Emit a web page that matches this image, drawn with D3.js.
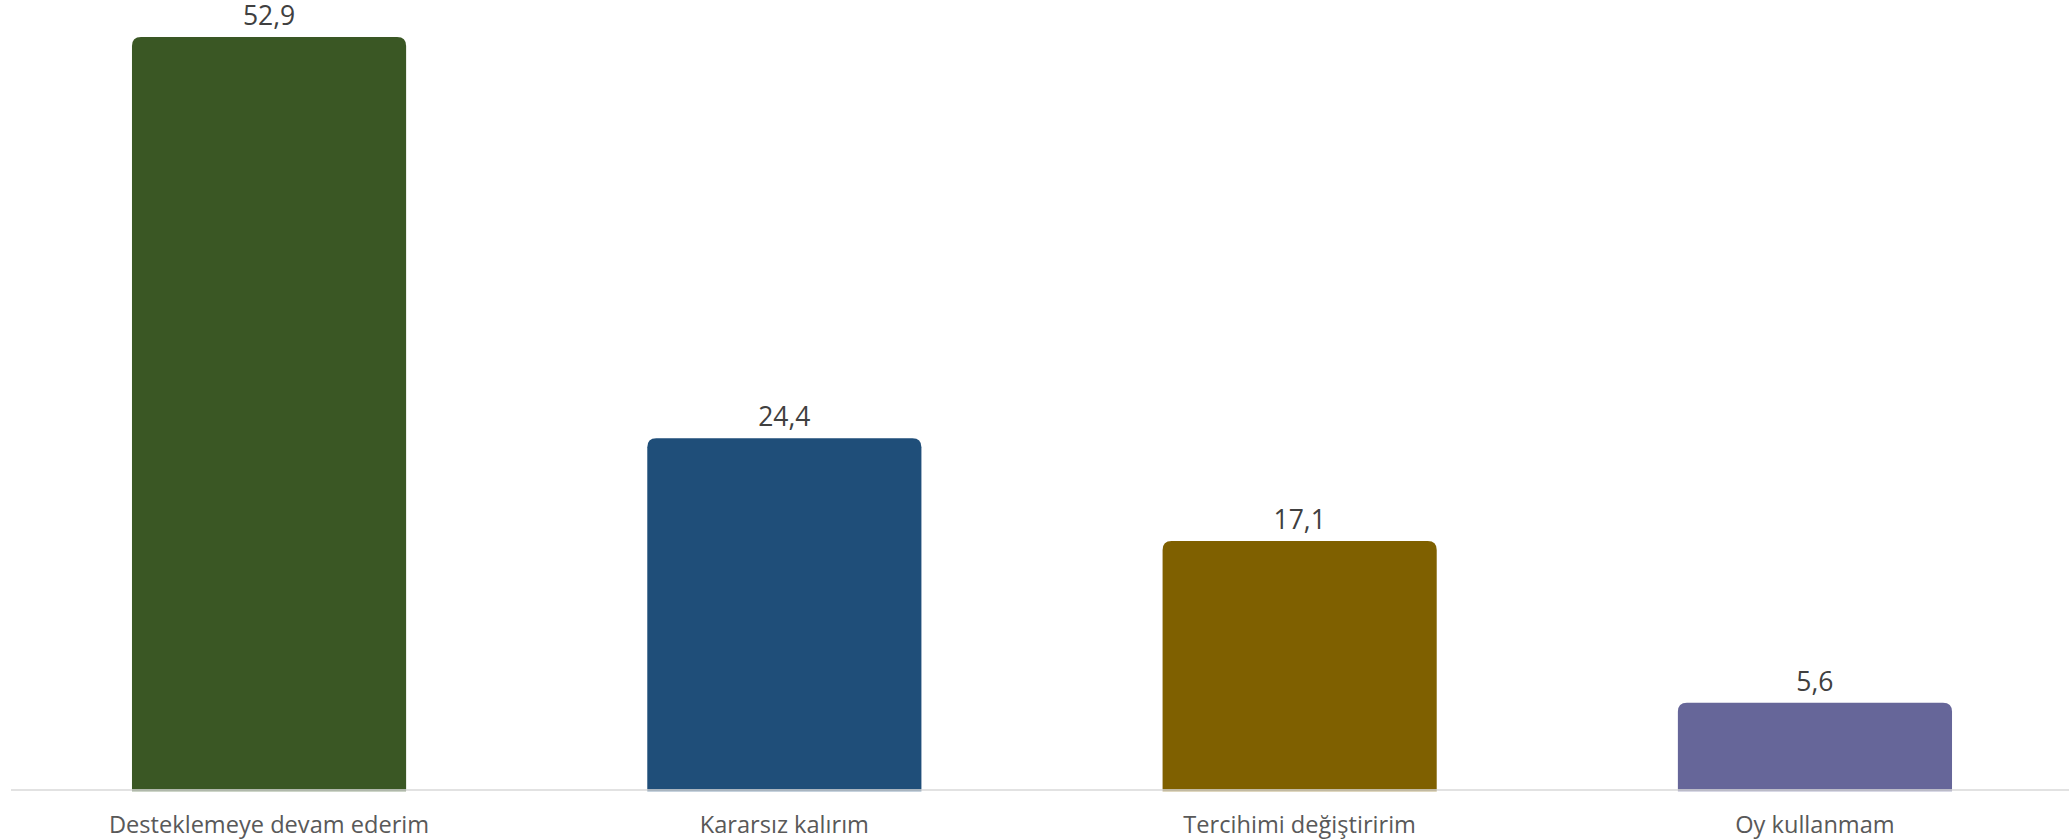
<!DOCTYPE html>
<html>
<head>
<meta charset="utf-8">
<script src="https://cdn.jsdelivr.net/npm/d3@7"></script>
<style>
  html, body { margin: 0; padding: 0; background: #ffffff; }
  svg { display: block; }
</style>
</head>
<body>
<svg id="chart" width="2069" height="840"></svg>
<script>
// ---- data ----
const categories = ["Desteklemeye devam ederim", "Kararsız kalırım", "Tercihimi değiştiririm", "Oy kullanmam"];
const values = [52.9, 24.4, 17.1, 5.6];
const valueLabels = ["52,9", "24,4", "17,1", "5,6"];
const barColors = ["#3a5724", "#1f4e79", "#7f6000", "#666699"];
const yDomain = [-0.69, 52.9];

// ---- layout ----
const W = 2069, H = 840;
const svg = d3.select("#chart");

const x = d3.scaleBand()
  .domain(categories)
  .range([11.4, 2072.6])
  .paddingInner(0.468)
  .paddingOuter(0.234);

const y = d3.scaleLinear()
  .domain(yDomain)
  .range([791.3, 37]);

const r = 9;
function barPath(x0, w, yTop, yBot) {
  const rr = Math.min(r, w / 2, (yBot - yTop));
  return `M${x0},${yBot}` +
    `L${x0},${yTop + rr}` +
    `Q${x0},${yTop} ${x0 + rr},${yTop}` +
    `L${x0 + w - rr},${yTop}` +
    `Q${x0 + w},${yTop} ${x0 + w},${yTop + rr}` +
    `L${x0 + w},${yBot}Z`;
}

const data = categories.map((c, i) => ({ c, v: values[i], label: valueLabels[i], color: barColors[i] }));

svg.append("g").selectAll("path")
  .data(data)
  .join("path")
  .attr("d", d => barPath(x(d.c), x.bandwidth(), y(d.v), y(yDomain[0])))
  .attr("fill", d => d.color);

// axis baseline
const xAxis = d3.axisBottom(x).tickSize(0).tickPadding(0);
const axisG = svg.append("g")
  .attr("transform", `translate(0,${y(yDomain[0]) - 1.3})`)
  .call(xAxis);
axisG.select(".domain").remove();
axisG.append("line")
  .attr("x1", 11).attr("x2", W)
  .attr("y1", 0).attr("y2", 0)
  .attr("stroke", "#d9d9d9")
  .attr("stroke-width", 1.6);
axisG.selectAll(".tick text")
  .attr("y", 43)
  .attr("dy", 0)
  .attr("font-family", "'Open Sans', sans-serif")
  .attr("font-size", 23.6)
  .attr("fill", "#595959")
  .attr("text-anchor", "middle");

// value labels
svg.append("g").selectAll("text")
  .data(data)
  .join("text")
  .attr("x", d => x(d.c) + x.bandwidth() / 2)
  .attr("y", d => y(d.v) - 11.7)
  .attr("text-anchor", "middle")
  .attr("font-family", "'Open Sans', sans-serif")
  .attr("font-size", 26.5)
  .attr("fill", "#404040")
  .text(d => d.label);
</script>
</body>
</html>
